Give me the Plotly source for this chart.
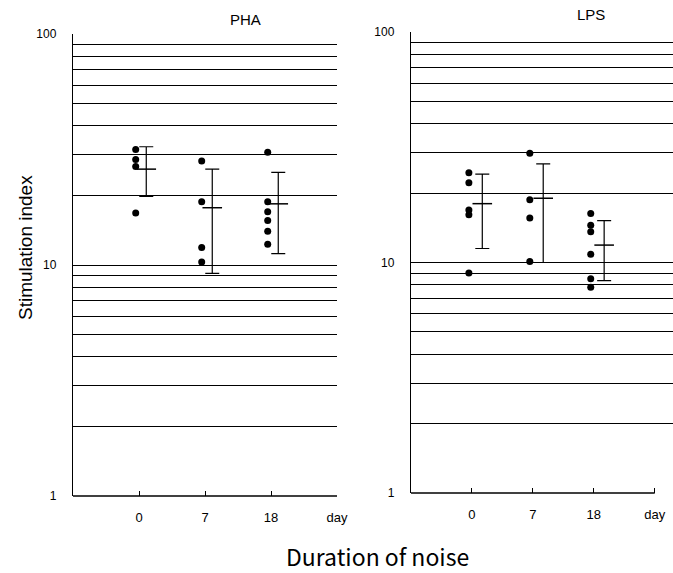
import plotly.graph_objects as go

# ---------------- data ----------------
days = ["0", "7", "18"]
day_pos = [1, 2, 3]

pha_points = {
    "0": [31.6, 28.6, 26.7, 16.8],
    "7": [28.2, 18.8, 11.9, 10.3],
    "18": [30.8, 18.8, 17.0, 15.6, 14.0, 12.3],
}
pha_mean = [26.0, 17.7, 18.4]
pha_upper = [32.5, 26.0, 25.2]
pha_lower = [19.8, 9.2, 11.2]

lps_points = {
    "0": [24.5, 22.2, 16.9, 16.1, 9.0],
    "7": [29.8, 18.7, 15.6, 10.1],
    "18": [16.3, 14.5, 13.6, 10.85, 8.5, 7.8],
}
lps_mean = [18.0, 19.0, 11.9]
lps_upper = [24.2, 26.8, 15.2]
lps_lower = [11.5, 10.0, 8.34]

grid_vals = [1, 2, 3, 4, 5, 6, 7, 8, 9, 10, 20, 30, 40, 50, 60, 70, 80, 90, 100]
grid_text = ["1", "", "", "", "", "", "", "", "", "10", "", "", "", "", "", "", "", "", "100"]
x_tick_vals = [1, 2, 3, 4]
x_tick_text = ["0", "7", "18", "day"]

W, H = 673, 573
FONT = "Liberation Sans, Arial, sans-serif"

fig = go.Figure()


def add_panel(points, mean, upper, lower, xa, ya, dot_off, bar_off):
    for d, p in zip(days, day_pos):
        vals = points[d]
        fig.add_trace(go.Scatter(
            x=[p + dot_off] * len(vals), y=vals, mode="markers",
            marker=dict(color="black", size=7), xaxis=xa, yaxis=ya,
            showlegend=False, hoverinfo="y"))
    xs = [p + bar_off for p in day_pos]
    fig.add_trace(go.Scatter(
        x=xs, y=mean, mode="markers",
        marker=dict(symbol="line-ew", size=14, line=dict(color="black", width=1.5)),
        error_y=dict(type="data", symmetric=False,
                     array=[u - m for u, m in zip(upper, mean)],
                     arrayminus=[m - l for m, l in zip(mean, lower)],
                     color="black", thickness=1.2, width=7),
        xaxis=xa, yaxis=ya, showlegend=False, hoverinfo="y"))


add_panel(pha_points, pha_mean, pha_upper, pha_lower, "x", "y", -0.05, 0.11)
add_panel(lps_points, lps_mean, lps_upper, lps_lower, "x2", "y2", -0.05, 0.17)

# panel geometry (pixels)
L_x0, L_x1 = 73, 337
R_x0, R_x1 = 411, 673
L_ytop, L_ybot = 34, 496
R_ytop, R_ybot = 32, 493


def px(v):
    return v / W


def py(v):
    return 1 - v / H


yaxis_common = dict(
    type="log", tickvals=grid_vals, ticktext=grid_text, showgrid=True,
    gridcolor="black", gridwidth=1.4, showline=True, linecolor="black",
    linewidth=1.4, ticks="", ticklabelstandoff=13, zeroline=False, automargin=False,
    tickfont=dict(family=FONT, size=12, color="black"), range=[0, 2],
)
xaxis_common = dict(
    tickvals=x_tick_vals, ticktext=x_tick_text, showgrid=False, zeroline=False,
    showline=False, ticks="inside", ticklen=5, tickwidth=1.2, tickcolor="black",
    ticklabelstandoff=12, automargin=False,
    tickfont=dict(family=FONT, size=13, color="black"),
)

fig.update_layout(
    width=W, height=H, autosize=False,
    margin=dict(l=0, r=0, t=0, b=0, pad=0),
    paper_bgcolor="white", plot_bgcolor="white",
    xaxis=dict(domain=[px(L_x0), px(L_x1)], range=[0, 4], anchor="y", **xaxis_common),
    yaxis=dict(domain=[py(L_ybot), py(L_ytop)], anchor="x", **yaxis_common),
    xaxis2=dict(domain=[px(R_x0), px(R_x1)], range=[0, 4.3], anchor="y2", **xaxis_common),
    yaxis2=dict(domain=[py(R_ybot), py(R_ytop)], anchor="x2", **yaxis_common),
)

# bottom axis lines
fig.add_shape(type="line", xref="x", yref="y domain", x0=0, x1=4, y0=0, y1=0,
              line=dict(color="black", width=1.6))
fig.add_shape(type="line", xref="x2", yref="y2 domain", x0=0, x1=4, y0=0, y1=0,
              line=dict(color="black", width=1.6))

ann = dict(xref="paper", yref="paper", showarrow=False, xanchor="center", yanchor="middle")
fig.add_annotation(text="PHA", x=px(246), y=py(19),
                   font=dict(family=FONT, size=15, color="black"), **ann)
fig.add_annotation(text="LPS", x=px(591), y=py(15),
                   font=dict(family=FONT, size=15, color="black"), **ann)
fig.add_annotation(text="Stimulation index", x=px(25), y=py(248), textangle=-90,
                   font=dict(family=FONT, size=19, color="black"), **ann)
fig.add_annotation(text="Duration of noise", x=px(377), y=py(556),
                   font=dict(family="Noto Sans CJK JP, sans-serif", size=23, color="black"), **ann)

fig.write_html("out.html", config={"displayModeBar": False},
               post_script="document.body.style.margin='0px';")
